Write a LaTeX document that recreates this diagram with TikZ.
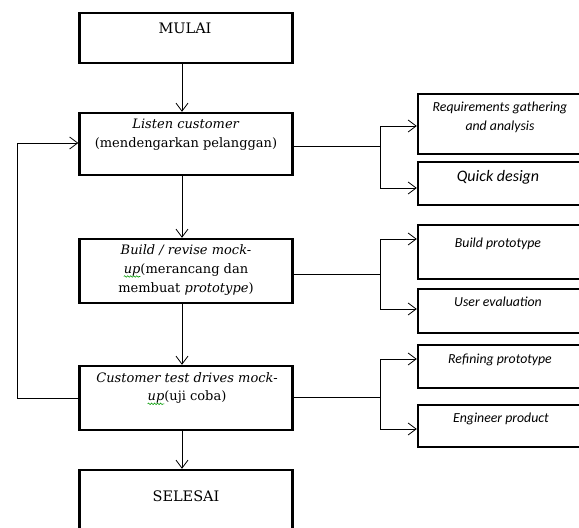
\documentclass[tikz,border=0pt]{standalone}
\usepackage{fontspec}
\setmainfont{DejaVu Serif}
\newfontfamily\stepfont{Carlito}
\usetikzlibrary{arrows.meta,decorations.pathmorphing}

\tikzset{
  mainbox/.style={draw, line width=2.4pt, minimum width=213pt, inner sep=0pt},
  sidebox/.style={draw, line width=2.4pt, minimum width=182pt, inner sep=0pt},
  maintext/.style={font=\fontsize{13}{18.7}\selectfont, align=center, inner sep=0pt},
  capstext/.style={font=\fontsize{14.5}{18}\selectfont, inner sep=0pt},
  sidetext/.style={font=\stepfont\itshape\fontsize{13.8}{19}\selectfont, align=center, inner sep=0pt},
  link/.style={line width=0.8pt},
  arr/.style={link, -{Straight Barb[length=8pt, width=12pt, line width=0.8pt]}},
  squiggle/.style={draw=green!60!black, line width=0.6pt,
    decorate, decoration={snake, amplitude=0.8pt, segment length=3pt}}
}

% wavy spelling mark drawn under a word
\newlength\spellwd
\newcommand\spellmark[1]{\settowidth\spellwd{#1}%
  \rlap{\tikz[overlay]\path[squiggle] (0pt,-3pt) -- (\spellwd,-3pt);}#1}

\begin{document}
\begin{tikzpicture}[x=1pt, y=-1pt]
\useasboundingbox (0,0) rectangle (579,528);

% main column
\node[mainbox, minimum height=50pt] (mulai)  at (186,38)  {};
\node[mainbox, minimum height=62pt] (listen) at (186,144) {};
\node[mainbox, minimum height=64pt] (build)  at (186,271) {};
\node[mainbox, minimum height=64pt] (cust)   at (186,398) {};
\node[mainbox, minimum height=70pt] (selesai) at (186,505) {};

\node[capstext] (tmulai) at (185,28) {MULAI};
\node[maintext] (tlisten) at (186,135) {\textit{Listen customer}\\(mendengarkan pelanggan)};
\node[maintext] (tbuild) at (186,270) {\textit{Build / revise mock-}\\\spellmark{\textit{up}}(merancang dan\\membuat \textit{prototype})};
\node[maintext] (tcust) at (187,388) {\textit{Customer test drives mock-}\\\spellmark{\textit{up}}(uji coba)};
\node[capstext] (tselesai) at (186,496) {SELESAI};

% side column
\node[sidebox, minimum height=60pt] (req)   at (509,124)   {};
\node[sidebox, minimum height=43pt] (quick) at (509,183.5) {};
\node[sidebox, minimum height=54pt] (bproto) at (509,252)  {};
\node[sidebox, minimum height=44pt] (ueval) at (509,311)   {};
\node[sidebox, minimum height=43pt] (refine) at (509,366.5) {};
\node[sidebox, minimum height=42pt] (eng)   at (509,426)   {};

\node[sidetext] (treq) at (500,117) {Requirements gathering\\and analysis};
\node[sidetext, font=\stepfont\itshape\fontsize{16}{18}\selectfont] (tquick) at (498,177) {Quick design};
\node[sidetext] (tbproto) at (498,244) {Build prototype};
\node[sidetext] (tueval) at (498,302) {User evaluation};
\node[sidetext] (trefine) at (500,360) {Refining prototype};
\node[sidetext] (teng) at (501,419) {Engineer product};

% main flow
\coordinate (axis) at (182,0);
\draw[arr] (mulai.south -| axis) -- (listen.north -| axis);
\draw[arr] (listen.south -| axis) -- (build.north -| axis);
\draw[arr] (build.south -| axis) -- (cust.north -| axis);
\draw[arr] (cust.south -| axis) -- (selesai.north -| axis);

% branches to the side column
\coordinate (j1) at (380,146);
\coordinate (j1a) at (380,126);
\coordinate (j1b) at (380,188);
\draw[link] (listen.east |- j1) -- (j1);
\draw[link] (j1a) -- (j1b);
\draw[arr] (j1a) -- (req.west |- j1a);
\draw[arr] (j1b) -- (quick.west |- j1b);

\coordinate (j2) at (380,274);
\coordinate (j2a) at (380,239);
\coordinate (j2b) at (380,309);
\draw[link] (build.east |- j2) -- (j2);
\draw[link] (j2a) -- (j2b);
\draw[arr] (j2a) -- (bproto.west |- j2a);
\draw[arr] (j2b) -- (ueval.west |- j2b);

\coordinate (j3) at (380,397);
\coordinate (j3a) at (380,359);
\coordinate (j3b) at (380,429);
\draw[link] (cust.east |- j3) -- (j3);
\draw[link] (j3a) -- (j3b);
\draw[arr] (j3a) -- (refine.west |- j3a);
\draw[arr] (j3b) -- (eng.west |- j3b);

% feedback loop
\coordinate (fb1) at (17,398);
\coordinate (fb2) at (17,143);
\draw[arr] (cust.west |- fb1) -- (fb1) -- (fb2) -- (listen.west |- fb2);
\end{tikzpicture}
\end{document}
